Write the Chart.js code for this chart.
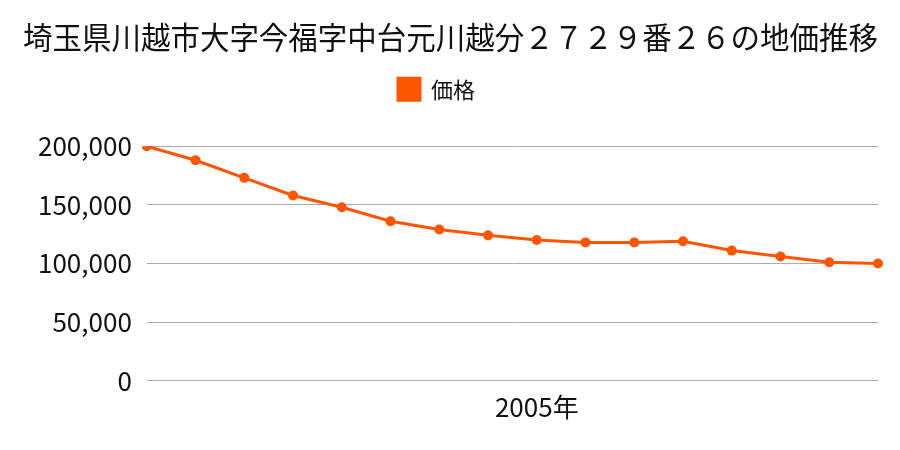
<!DOCTYPE html>
<html><head><meta charset="utf-8">
<script src="https://cdn.jsdelivr.net/npm/chart.js@4"></script>
<style>html,body{margin:0;padding:0;background:#fff}#wrap{width:900px;height:450px}</style>
</head><body><div id="wrap"><canvas id="c"></canvas></div>
<script>
const titleText = '埼玉県川越市大字今福字中台元川越分２７２９番２６の地価推移';
const seriesName = '価格';
const categories = ['', '', '', '', '', '', '', '', '2005年', '', '', '', '', '', '', ''];
const prices = [200000, 188000, 173000, 158000, 148000, 136000, 129000, 124000, 120000, 118000, 118000, 119000, 111000, 106000, 101000, 100000];
const yTicks = [0, 50000, 100000, 150000, 200000];

const FONT = '"Noto Sans CJK JP", "Noto Sans", sans-serif';
const legendSpace = {
  id: 'legendSpace',
  beforeInit(chart) {
    const fit = chart.legend.fit;
    chart.legend.fit = function () { fit.call(this); this.height += 36; };
  },
  afterLayout(chart) {
    chart.legend.left -= 14;
    chart.legend.right -= 14;
  }
};
new Chart(document.getElementById('c'), {
  type: 'line',
  data: {
    labels: categories,
    datasets: [{
      label: seriesName,
      data: prices,
      borderColor: '#ff5500',
      backgroundColor: '#ff5500',
      borderWidth: 3,
      pointRadius: 5,
      pointBackgroundColor: '#ff5500',
      pointBorderWidth: 0,
      tension: 0
    }]
  },
  plugins: [legendSpace],
  options: {
    responsive: true,
    maintainAspectRatio: false,
    animation: false,
    layout: { padding: { left: 23, right: 22, top: 8, bottom: 24 } },
    plugins: {
      title: { display: true, text: titleText, color: '#111', font: { family: FONT, size: 31, weight: 'normal' }, padding: { top: 11, bottom: 12 } },
      legend: { display: true, labels: { color: '#111', font: { family: FONT, size: 22 }, boxWidth: 22, boxHeight: 22, padding: 10 } },
      tooltip: { enabled: false }
    },
    scales: {
      x: {
        offset: false,
        grid: { display: false },
        border: { display: false },
        ticks: { autoSkip: false, maxRotation: 0, color: '#111', font: { family: FONT, size: 26 }, padding: 3 }
      },
      y: {
        min: 0, max: 200000,
        afterBuildTicks: (s) => { s.ticks = yTicks.map(v => ({ value: v })); },
        grid: { color: '#aaaaaa', lineWidth: 1, drawTicks: false },
        border: { display: false },
        ticks: { color: '#111', font: { family: FONT, size: 26 }, padding: 15,
          callback: (v) => v.toLocaleString('en-US') }
      }
    }
  }
});
</script></body></html>
